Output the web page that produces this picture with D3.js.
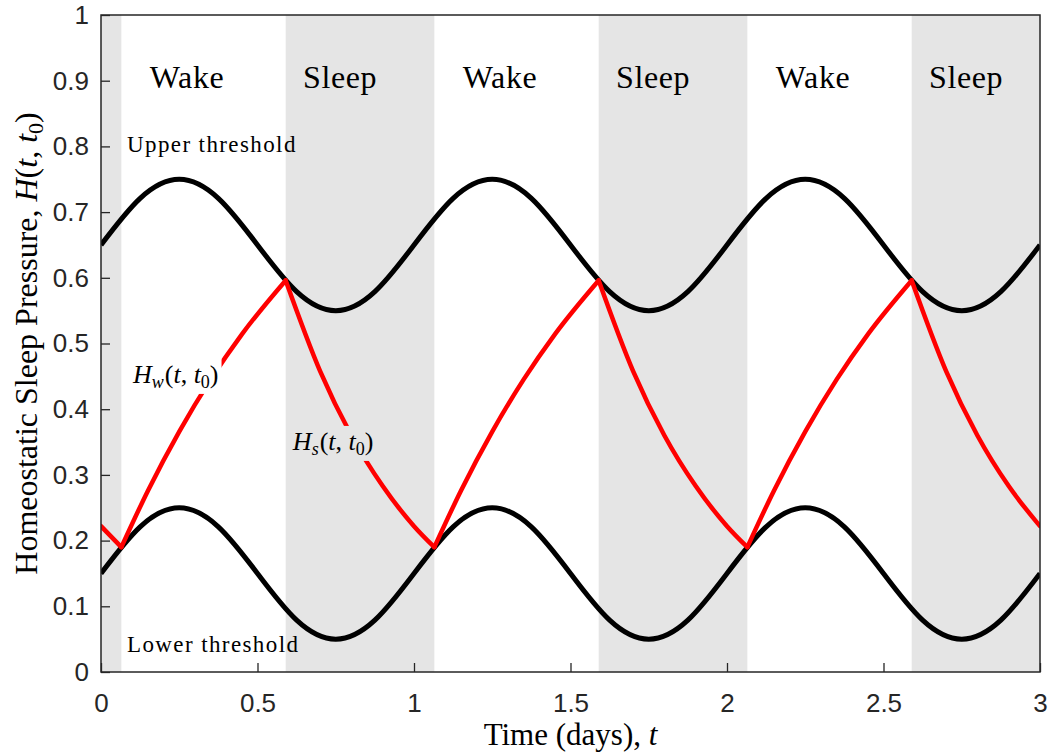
<!DOCTYPE html>
<html>
<head>
<meta charset="utf-8">
<script src="https://cdn.jsdelivr.net/npm/d3@7"></script>
<style>
  body { margin: 0; background: #fff; }
  svg { display: block; }
</style>
</head>
<body>
<div id="chart"></div>
<script>
// Sleep / wake windows (days)
const sleepBands = [[0, 0.065], [0.59, 1.065], [1.59, 2.065], [2.59, 3]];

// Thresholds
const thrT = [0, 0.125, 0.25, 0.375, 0.5, 0.625, 0.75, 0.875,
              1, 1.125, 1.25, 1.375, 1.5, 1.625, 1.75, 1.875,
              2, 2.125, 2.25, 2.375, 2.5, 2.625, 2.75, 2.875, 3];
const upperH = [0.65, 0.721, 0.75, 0.721, 0.65, 0.579, 0.55, 0.579,
                0.65, 0.721, 0.75, 0.721, 0.65, 0.579, 0.55, 0.579,
                0.65, 0.721, 0.75, 0.721, 0.65, 0.579, 0.55, 0.579, 0.65];
const lowerH = [0.15, 0.221, 0.25, 0.221, 0.15, 0.079, 0.05, 0.079,
                0.15, 0.221, 0.25, 0.221, 0.15, 0.079, 0.05, 0.079,
                0.15, 0.221, 0.25, 0.221, 0.15, 0.079, 0.05, 0.079, 0.15];

// Homeostatic pressure, one piece per wake / sleep stretch
const redCurve = [
  [[0, 0.222], [0.065, 0.19]],
  [[0.065, 0.19], [0.15, 0.276], [0.25, 0.366], [0.35, 0.445], [0.45, 0.514], [0.59, 0.596]],
  [[0.59, 0.596], [0.7, 0.458], [0.8, 0.36], [0.9, 0.283], [1.0, 0.222], [1.065, 0.19]],
  [[1.065, 0.19], [1.15, 0.276], [1.25, 0.366], [1.35, 0.445], [1.45, 0.514], [1.59, 0.596]],
  [[1.59, 0.596], [1.7, 0.458], [1.8, 0.36], [1.9, 0.283], [2.0, 0.222], [2.065, 0.19]],
  [[2.065, 0.19], [2.15, 0.276], [2.25, 0.366], [2.35, 0.445], [2.45, 0.514], [2.59, 0.596]],
  [[2.59, 0.596], [2.7, 0.458], [2.8, 0.36], [2.9, 0.283], [3.0, 0.222]]
];

const phaseNames = ["Wake", "Sleep", "Wake", "Sleep", "Wake", "Sleep"];
const phaseT = [0.275, 0.764, 1.275, 1.764, 2.275, 2.764];

const xTicks = [0, 0.5, 1, 1.5, 2, 2.5, 3];
const yTicks = [0, 0.1, 0.2, 0.3, 0.4, 0.5, 0.6, 0.7, 0.8, 0.9, 1];

var margin = {top: 15, right: 8, bottom: 82, left: 101};
var W = 1048, H = 754;
var width = W - margin.left - margin.right,
    height = H - margin.top - margin.bottom;

var serif = "'Liberation Serif', 'Times New Roman', serif";
var sans = "'Liberation Sans', Arial, Helvetica, sans-serif";
var axisColor = "#262626";

var svg = d3.select("#chart").append("svg")
  .attr("width", W).attr("height", H);

var g = svg.append("g")
  .attr("transform", "translate(" + margin.left + "," + margin.top + ")");

var x = d3.scaleLinear().domain([0, 3]).range([0, width]);
var y = d3.scaleLinear().domain([0, 1]).range([height, 0]);

g.append("clipPath").attr("id", "plotclip")
  .append("rect").attr("width", width).attr("height", height);

// sleep shading
g.append("g").selectAll("rect")
  .data(sleepBands)
  .join("rect")
    .attr("x", d => x(d[0]))
    .attr("y", 0)
    .attr("width", d => x(d[1]) - x(d[0]))
    .attr("height", height)
    .attr("fill", "#e5e5e5");

var lines = g.append("g").attr("clip-path", "url(#plotclip)");

var thrLine = d3.line()
  .x((d, i) => x(thrT[i]))
  .y(d => y(d))
  .curve(d3.curveNatural);

[upperH, lowerH].forEach(function(series) {
  lines.append("path")
    .attr("d", thrLine(series))
    .attr("fill", "none")
    .attr("stroke", "#000")
    .attr("stroke-width", 5)
    .attr("stroke-linejoin", "round");
});

var redLine = d3.line()
  .x(d => x(d[0]))
  .y(d => y(d[1]))
  .curve(d3.curveMonotoneX);

lines.selectAll("path.red")
  .data(redCurve)
  .join("path")
    .attr("class", "red")
    .attr("d", redLine)
    .attr("fill", "none")
    .attr("stroke", "#ff0000")
    .attr("stroke-width", 4.5)
    .attr("stroke-linecap", "round");

// Wake / Sleep labels
g.append("g").selectAll("text")
  .data(phaseNames)
  .join("text")
    .attr("x", (d, i) => x(phaseT[i]))
    .attr("y", y(0.889))
    .attr("text-anchor", "middle")
    .attr("font-family", serif)
    .attr("font-size", 32)
    .attr("letter-spacing", 0.6)
    .attr("fill", "#000")
    .text(d => d);

// threshold labels
g.append("text")
  .attr("x", x(0.083)).attr("y", y(0.791))
  .attr("font-family", serif).attr("font-size", 23)
  .attr("letter-spacing", 1.4)
  .text("Upper threshold");

g.append("text")
  .attr("x", x(0.083)).attr("y", y(0.03))
  .attr("font-family", serif).attr("font-size", 23)
  .attr("letter-spacing", 1.4)
  .text("Lower threshold");

// math labels with a backing box
function mathLabel(tx, hy, sub, bg) {
  var lab = g.append("g");
  var box = lab.append("rect").attr("fill", bg);
  var t = lab.append("text")
    .attr("x", x(tx)).attr("y", y(hy))
    .attr("font-family", serif).attr("font-size", 26);
  t.append("tspan").attr("font-style", "italic").text("H");
  t.append("tspan").attr("font-style", "italic").attr("font-size", 18).attr("dy", 5).text(sub);
  t.append("tspan").attr("dy", -5).attr("dx", 1).text("(");
  t.append("tspan").attr("font-style", "italic").text("t");
  t.append("tspan").text(", ");
  t.append("tspan").attr("font-style", "italic").text("t");
  t.append("tspan").attr("font-size", 18).attr("dy", 5).text("0");
  t.append("tspan").attr("dy", -5).text(")");
  var bb = t.node().getBBox();
  box.attr("x", bb.x - 3).attr("y", bb.y - 1)
     .attr("width", bb.width + 6).attr("height", bb.height + 3);
}
mathLabel(0.102, 0.44, "w", "#fff");
mathLabel(0.613, 0.338, "s", "#e5e5e5");

// axes box
g.append("rect")
  .attr("width", width).attr("height", height)
  .attr("fill", "none")
  .attr("stroke", axisColor)
  .attr("stroke-width", 1.5);

var xAxis = g.append("g")
  .attr("transform", "translate(0," + height + ")")
  .call(d3.axisBottom(x).tickValues(xTicks).tickFormat(d3.format("")).tickSizeInner(-9).tickSizeOuter(0));
var yAxis = g.append("g")
  .call(d3.axisLeft(y).tickValues(yTicks).tickFormat(d3.format("")).tickSizeInner(-9).tickSizeOuter(0));

[xAxis, yAxis].forEach(function(a) {
  a.select(".domain").remove();
  a.selectAll(".tick line").attr("stroke", axisColor).attr("stroke-width", 1.3);
  a.selectAll(".tick text")
    .attr("font-family", sans)
    .attr("font-size", 26)
    .attr("fill", axisColor);
});
xAxis.selectAll(".tick text").attr("dy", "0.71em").attr("y", 22);
yAxis.selectAll(".tick text").attr("x", -12);

// axis titles
var xt = svg.append("text")
  .attr("x", margin.left + width / 2)
  .attr("y", 745)
  .attr("text-anchor", "middle")
  .attr("font-family", serif).attr("font-size", 31);
xt.append("tspan").text("Time (days), ");
xt.append("tspan").attr("font-style", "italic").text("t");

var yt = svg.append("text")
  .attr("transform", "translate(37," + (margin.top + height / 2) + ") rotate(-90)")
  .attr("text-anchor", "middle")
  .attr("font-family", serif).attr("font-size", 32);
yt.append("tspan").text("Homeostatic Sleep Pressure, ");
yt.append("tspan").attr("font-style", "italic").text("H");
yt.append("tspan").text("(");
yt.append("tspan").attr("font-style", "italic").text("t");
yt.append("tspan").text(", ");
yt.append("tspan").attr("font-style", "italic").text("t");
yt.append("tspan").attr("font-size", 22).attr("dy", 6).text("0");
yt.append("tspan").attr("dy", -6).text(")");
</script>
</body>
</html>
